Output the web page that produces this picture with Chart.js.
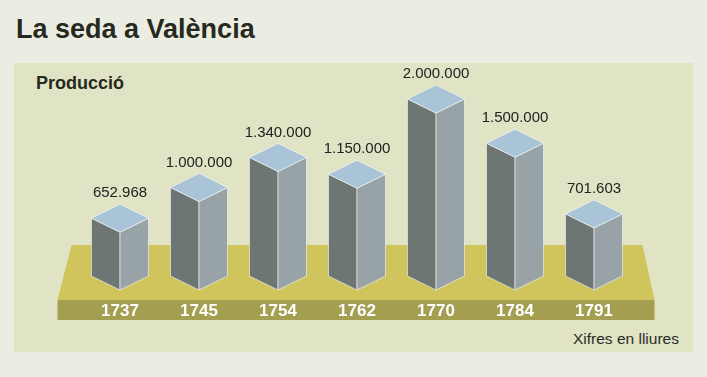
<!DOCTYPE html>
<html>
<head>
<meta charset="utf-8">
<script src="https://cdn.jsdelivr.net/npm/chart.js@4/dist/chart.umd.min.js"></script>
<style>
  body { margin: 0; background: #ecede2; font-family: "Liberation Sans", Arial, sans-serif; }
  #wrap { position: relative; width: 707px; height: 377px; overflow: hidden; }
  #title { position: absolute; left: 16px; top: 14px; font-size: 27px; font-weight: bold; color: #252a1d; }
  #panel { position: absolute; left: 14px; top: 63px; width: 679px; height: 289px; background: #e0e3c4; }
  #sub { position: absolute; left: 36px; top: 73px; font-size: 18px; font-weight: bold; color: #252a1d; }
  #note { position: absolute; left: 573px; top: 330px; font-size: 15.5px; color: #2a2d24; }
  canvas { position: absolute; left: 0; top: 0; }
</style>
</head>
<body>
<div id="wrap">
  <div id="title">La seda a València</div>
  <div id="panel"></div>
  <div id="sub">Producció</div>
  <div id="note">Xifres en lliures</div>
  <canvas id="silkChart" width="707" height="377"></canvas>
</div>
<script>
// Producció de seda (lliures)
const years = ['1737', '1745', '1754', '1762', '1770', '1784', '1791'];
const production = [652968, 1000000, 1340000, 1150000, 2000000, 1500000, 701603];

const fmt = v => String(v).replace(/\B(?=(\d{3})+(?!\d))/g, '.');

// base platform + year strip, drawn under the boxes
const platform = {
  id: 'platform',
  beforeDatasetsDraw(chart) {
    const { ctx, chartArea, scales } = chart;
    const y0 = scales.y.getPixelForValue(0);
    const l = chartArea.left, r = chartArea.right;
    ctx.save();
    ctx.fillStyle = '#d0c55c';
    ctx.beginPath();
    ctx.moveTo(l - 9, y0 - 45);
    ctx.lineTo(r + 9, y0 - 45);
    ctx.lineTo(r + 21, y0 + 10);
    ctx.lineTo(l - 23, y0 + 10);
    ctx.closePath();
    ctx.fill();
    ctx.fillStyle = '#a49f50';
    ctx.fillRect(l - 23, y0 + 10, r - l + 44, 20);

    ctx.fillStyle = '#ffffff';
    ctx.font = 'bold 17px "Liberation Sans", Arial, sans-serif';
    ctx.textAlign = 'center';
    ctx.textBaseline = 'middle';
    years.forEach((yr, i) => {
      ctx.fillText(yr, scales.x.getPixelForValue(i), y0 + 21);
    });
    ctx.restore();
  }
};

// 3D boxes from the bar elements
const boxes = {
  id: 'boxes',
  afterDatasetsDraw(chart) {
    const { ctx } = chart;
    const meta = chart.getDatasetMeta(0);
    const hw = 28.5, dh = 14;
    ctx.save();
    meta.data.forEach((bar, i) => {
      const x = bar.x, y = bar.y, b = bar.base;
      ctx.strokeStyle = 'rgba(255,255,255,0.55)';
      ctx.lineWidth = 1;
      // left face
      ctx.fillStyle = '#6d7673';
      ctx.beginPath();
      ctx.moveTo(x - hw, y - dh); ctx.lineTo(x, y); ctx.lineTo(x, b); ctx.lineTo(x - hw, b - dh);
      ctx.closePath(); ctx.fill(); ctx.stroke();
      // right face
      ctx.fillStyle = '#98a3a7';
      ctx.beginPath();
      ctx.moveTo(x, y); ctx.lineTo(x + hw, y - dh); ctx.lineTo(x + hw, b - dh); ctx.lineTo(x, b);
      ctx.closePath(); ctx.fill(); ctx.stroke();
      // top face
      ctx.fillStyle = '#a8c4d6';
      ctx.beginPath();
      ctx.moveTo(x, y - 2 * dh); ctx.lineTo(x + hw, y - dh); ctx.lineTo(x, y); ctx.lineTo(x - hw, y - dh);
      ctx.closePath(); ctx.fill(); ctx.stroke();
      // value label
      ctx.fillStyle = '#222';
      ctx.font = '15px "Liberation Sans", Arial, sans-serif';
      ctx.textAlign = 'center';
      ctx.textBaseline = 'middle';
      ctx.fillText(fmt(production[i]), x, y - 2 * dh - 11);
    });
    ctx.restore();
  }
};

new Chart(document.getElementById('silkChart'), {
  type: 'bar',
  data: {
    labels: years,
    datasets: [{
      label: 'Producció',
      data: production,
      backgroundColor: 'rgba(0,0,0,0)',
      barThickness: 57
    }]
  },
  options: {
    responsive: false,
    animation: false,
    layout: { padding: { top: 68.75, bottom: 87, left: 80.5, right: 73.5 } },
    plugins: { legend: { display: false }, tooltip: { enabled: false } },
    scales: {
      x: { display: false },
      y: { display: false, min: 0, max: 2500000 }
    }
  },
  plugins: [platform, boxes]
});
</script>
</body>
</html>
